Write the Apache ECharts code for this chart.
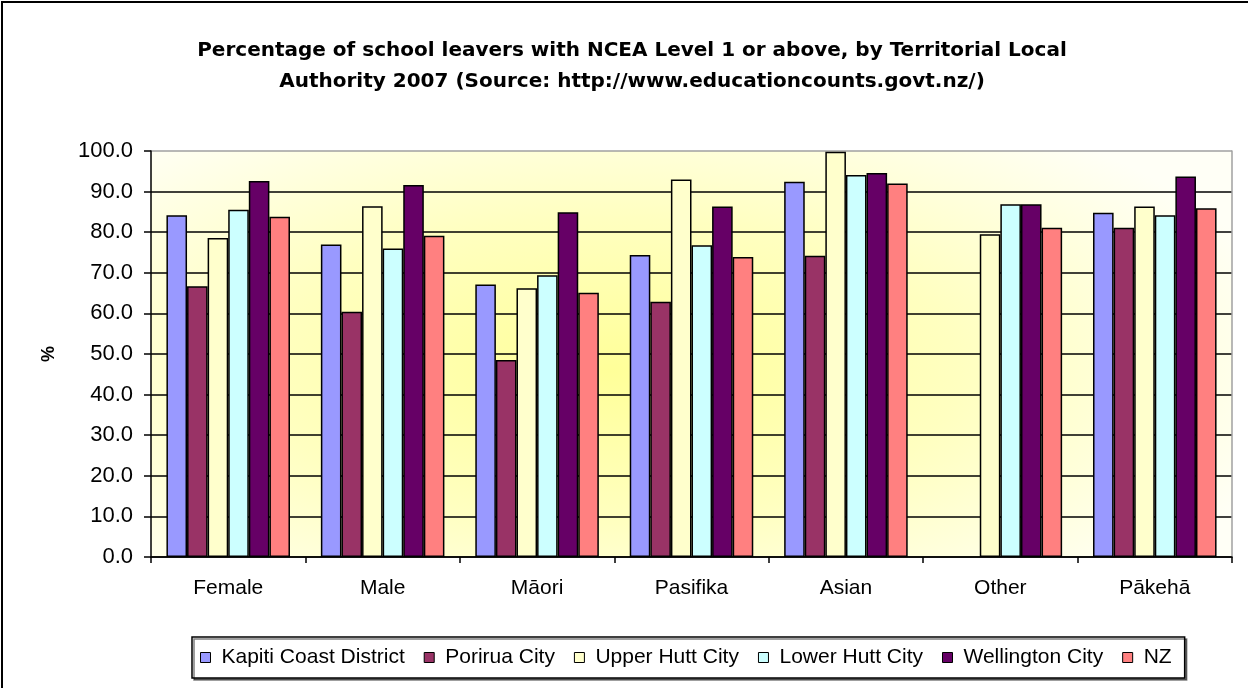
<!DOCTYPE html>
<html>
<head>
<meta charset="utf-8">
<script src="https://cdn.jsdelivr.net/npm/echarts@6/dist/echarts.min.js"></script>
<style>
html,body{margin:0;padding:0;background:#fff;}
#c{width:1248px;height:688px;}
</style>
</head>
<body>
<div id="c"></div>
<script>
const categories = ['Female', 'Male', 'Māori', 'Pasifika', 'Asian', 'Other', 'Pākehā'];
const seriesNames = ['Kapiti Coast District', 'Porirua City', 'Upper Hutt City', 'Lower Hutt City', 'Wellington City', 'NZ'];
const kapiti     = [84.2, 77.0, 67.1, 74.4, 92.4, null, 84.8];
const porirua    = [66.7, 60.4, 48.5, 62.9, 74.2, null, 81.1];
const upperHutt  = [78.6, 86.4, 66.2, 93.0, 99.8, 79.5, 86.3];
const lowerHutt  = [85.5, 76.0, 69.4, 76.8, 94.1, 86.9, 84.2];
const wellington = [92.6, 91.6, 84.9, 86.3, 94.6, 86.9, 93.7];
const nz         = [83.8, 79.1, 65.1, 73.9, 92.0, 81.1, 85.9];
const yTicks = [0, 10, 20, 30, 40, 50, 60, 70, 80, 90, 100];

const seriesData = [kapiti, porirua, upperHutt, lowerHutt, wellington, nz];
const colors = ['#9999FF', '#993366', '#FFFFCC', '#CCFFFF', '#660066', '#FF8080'];
const FONT = '"Liberation Sans", Arial, sans-serif';

const G = {left: 151, top: 151, right: 16, bottom: 131};
const plotW = 1248 - G.left - G.right;
const plotH = 688 - G.top - G.bottom;
const sx = 2.3;

const chart = echarts.init(document.getElementById('c'), null, {renderer: 'canvas'});
const splitColors = yTicks.map((v, i) => i === yTicks.length - 1 ? '#a0a0a0' : '#000');

chart.setOption({
  backgroundColor: '#fff',
  animation: false,
  title: {
    text: 'Percentage of school leavers with NCEA Level 1 or above, by Territorial Local\nAuthority 2007 (Source: http://www.educationcounts.govt.nz/)',
    left: 627, top: 30, textAlign: 'center',
    textStyle: {fontFamily: '"DejaVu Sans", sans-serif', fontWeight: 'bold', fontSize: 20, lineHeight: 31, color: '#000'}
  },
  graphic: [
    {type: 'rect', x: G.left, y: G.top, scaleX: sx, z: -10,
     shape: {x: 0, y: 0, width: plotW / sx, height: plotH},
     style: {fill: {type: 'radial', x: (610 - G.left) / plotW, y: 0.54, r: 0.75,
       colorStops: [{offset: 0, color: '#FFFF99'}, {offset: 0.5, color: '#FFFFC0'}, {offset: 1, color: '#FFFFF6'}]}}},
    {type: 'rect', z: 100, shape: {x: 2, y: 2, width: 1300, height: 800},
     style: {fill: null, stroke: '#000', lineWidth: 2}}
  ],
  legend: {
    left: 192, top: 637,
    data: seriesNames,
    itemWidth: 10, itemHeight: 10, itemGap: 19,
    padding: [10, 13, 10, 8],
    borderColor: '#000', borderWidth: 1.5,
    backgroundColor: '#fff',
    shadowColor: 'rgba(0,0,0,0.5)', shadowOffsetX: 2, shadowOffsetY: 2, shadowBlur: 0,
    icon: 'rect',
    itemStyle: {borderColor: '#000', borderWidth: 1},
    textStyle: {fontFamily: FONT, fontSize: 21, color: '#000', padding: [0, 0, 0, 6]}
  },
  grid: G,
  xAxis: {
    type: 'category', data: categories,
    axisLine: {lineStyle: {color: '#000', width: 1.5}},
    axisTick: {show: true, length: 6, lineStyle: {color: '#000', width: 1.5}},
    axisLabel: {fontFamily: FONT, fontSize: 21, color: '#000', margin: 21},
    splitLine: {show: false}
  },
  yAxis: [{
    type: 'value', min: 0, max: 100, interval: 10,
    name: '%', nameLocation: 'middle', nameGap: 93, nameRotate: 90,
    nameTextStyle: {fontFamily: FONT, fontSize: 18, fontWeight: 'bold', color: '#000'},
    axisLine: {show: true, lineStyle: {color: '#000', width: 1.5}},
    axisTick: {show: true, length: 7, lineStyle: {color: '#000', width: 1.5}},
    axisLabel: {fontFamily: FONT, fontSize: 22, color: '#000', margin: 18,
      formatter: v => v.toFixed(1)},
    splitLine: {show: true, lineStyle: {color: splitColors, width: 1.5}}
  }, {
    type: 'value', min: 0, max: 100, interval: 10, position: 'right',
    axisLine: {show: true, lineStyle: {color: '#a0a0a0', width: 1.5}},
    axisTick: {show: false}, axisLabel: {show: false}, splitLine: {show: false}
  }],
  series: seriesNames.map((name, i) => ({
    name, type: 'bar', data: seriesData[i],
    barGap: '0%', barCategoryGap: '20%',
    itemStyle: {color: colors[i], borderColor: '#000', borderWidth: 1.5}
  }))
});
</script>
</body>
</html>
